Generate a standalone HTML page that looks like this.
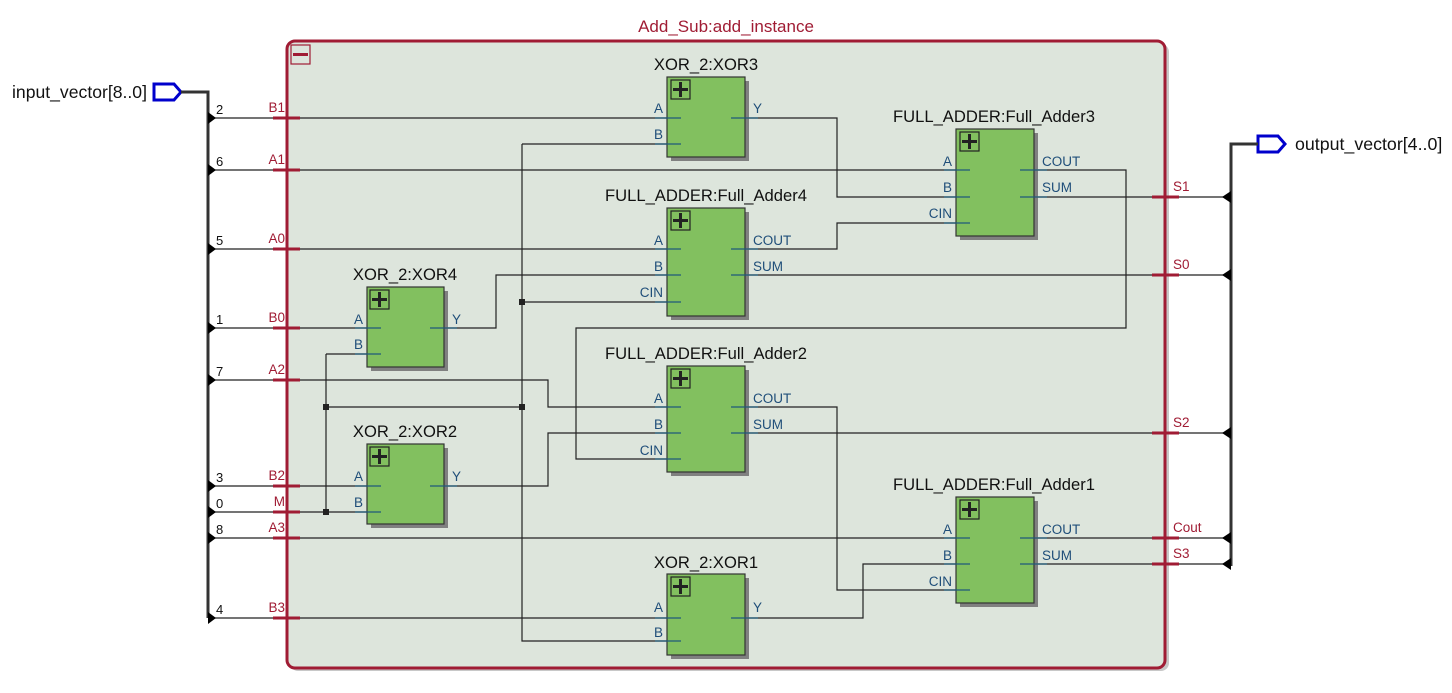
<!DOCTYPE html>
<html><head><meta charset="utf-8"><style>
html,body{margin:0;padding:0;background:#fff;width:1452px;height:693px;overflow:hidden}
svg{display:block}
text{font-family:"Liberation Sans","DejaVu Sans",sans-serif}
.t{font-size:16.6px;fill:#111}
.pl{font-size:13.5px;fill:#1f4e79}
.rl{font-size:13.5px;fill:#a01c34}
.nl{font-size:13px;fill:#111}
.w{stroke:#222;stroke-width:1.2;fill:none}
.st{stroke:#1f5a7a;stroke-width:1.2}
.rp{stroke:#a01c34;stroke-width:3}
</style></head><body>
<svg width="1452" height="693" viewBox="0 0 1452 693" xmlns="http://www.w3.org/2000/svg">
<defs>
<g id="plus"><rect x="0" y="0" width="19" height="19" fill="none" stroke="#222" stroke-width="1.2"/><path d="M9.5 2V17M2 9.5H17" stroke="#222" stroke-width="3"/></g>
</defs>
<rect x="290" y="44" width="879" height="627" rx="8" fill="#c8c8c8"/>
<rect x="287" y="41" width="878" height="627" rx="8" fill="#dde5dc" stroke="#a01c34" stroke-width="3"/>
<text x="726" y="32" text-anchor="middle" style="font-size:17px;fill:#a01c34">Add_Sub:add_instance</text>
<rect x="291" y="45" width="19" height="19" fill="none" stroke="#a01c34" stroke-width="1.2"/>
<path d="M293 54.5H308" stroke="#a01c34" stroke-width="3"/>

<path d="M154 84H174L181 92L174 100H154Z" fill="#fff" stroke="#0000cc" stroke-width="3"/>
<text x="12" y="98" style="font-size:17.6px;fill:#111">input_vector[8..0]</text>
<path d="M181 92H208V618" stroke="#333" stroke-width="3" fill="none"/>

<path d="M1258 136H1278L1285 144L1278 152H1258Z" fill="#fff" stroke="#0000cc" stroke-width="3"/>
<text x="1295" y="150" style="font-size:17.8px;fill:#111">output_vector[4..0]</text>
<path d="M1258 144H1231V566" stroke="#333" stroke-width="3" fill="none"/>

<g class="w">
<path d="M208 118H681"/>
<path d="M208 170H970"/>
<path d="M208 249H681"/>
<path d="M208 328H381"/>
<path d="M208 380H548V407H681"/>
<path d="M208 486H381"/>
<path d="M208 512H381"/>
<path d="M208 538H970"/>
<path d="M208 618H681"/>
<path d="M326 354H381"/>
<path d="M326 354V512"/>
<path d="M326 407H522"/>
<path d="M522 144H681"/>
<path d="M522 144V641H681"/>
<path d="M522 302H681"/>
<path d="M731 118H837V197H970"/>
<path d="M731 249H837V223H970"/>
<path d="M731 275H1231"/>
<path d="M430 328H496V275H681"/>
<path d="M1020 170H1126V328H576V459H681"/>
<path d="M1020 197H1231"/>
<path d="M430 486H548V433H681"/>
<path d="M731 407H837V590H970"/>
<path d="M731 433H1231"/>
<path d="M1020 538H1231"/>
<path d="M1020 564H1231"/>
<path d="M731 618H863V564H970"/>
</g>
<g fill="#222">
<rect x="323" y="404" width="6" height="6"/><rect x="323" y="509" width="6" height="6"/>
<rect x="519" y="404" width="6" height="6"/><rect x="519" y="299" width="6" height="6"/>
</g>
<g fill="#000">
<path d="M208 112L216 118L208 124Z"/><path d="M208 164L216 170L208 176Z"/>
<path d="M208 243L216 249L208 255Z"/><path d="M208 322L216 328L208 334Z"/>
<path d="M208 374L216 380L208 386Z"/><path d="M208 480L216 486L208 492Z"/>
<path d="M208 506L216 512L208 518Z"/><path d="M208 532L216 538L208 544Z"/>
<path d="M208 612L216 618L208 624Z"/>
<path d="M1231 191L1222 197L1231 203Z"/><path d="M1231 269L1222 275L1231 281Z"/>
<path d="M1231 427L1222 433L1231 439Z"/><path d="M1231 532L1222 538L1231 544Z"/>
<path d="M1231 558L1222 564L1231 570Z"/>
</g>
<g class="nl">
<text x="216" y="114">2</text><text x="216" y="166">6</text><text x="216" y="245">5</text>
<text x="216" y="324">1</text><text x="216" y="376">7</text><text x="216" y="482">3</text>
<text x="216" y="508">0</text><text x="216" y="534">8</text><text x="216" y="614">4</text>
</g>
<g class="rp">
<path d="M273 118H300"/><path d="M273 170H300"/><path d="M273 249H300"/><path d="M273 328H300"/>
<path d="M273 380H300"/><path d="M273 486H300"/><path d="M273 512H300"/><path d="M273 538H300"/><path d="M273 618H300"/>
<path d="M1152 197H1179"/><path d="M1152 275H1179"/><path d="M1152 433H1179"/><path d="M1152 538H1179"/><path d="M1152 564H1179"/>
</g>
<g class="rl" text-anchor="end">
<text x="285" y="112">B1</text><text x="285" y="164">A1</text><text x="285" y="243">A0</text>
<text x="285" y="322">B0</text><text x="285" y="374">A2</text><text x="285" y="480">B2</text>
<text x="285" y="506">M</text><text x="285" y="532">A3</text><text x="285" y="612">B3</text>
</g>
<g class="rl">
<text x="1173" y="191">S1</text><text x="1173" y="269">S0</text><text x="1173" y="427">S2</text>
<text x="1173" y="532">Cout</text><text x="1173" y="558">S3</text>
</g>

<g>
<rect x="671" y="81" width="78" height="80" fill="#808080"/>
<rect x="667" y="77" width="78" height="80" fill="#82c05f" stroke="#333" stroke-width="1.2"/>
<use href="#plus" x="671" y="80"/>
<text x="706" y="70" class="t" text-anchor="middle">XOR_2:XOR3</text>
<path d="M655 118H681M655 144H681M731 118H758" class="st"/>
<text x="663" y="113" class="pl" text-anchor="end">A</text><text x="663" y="139" class="pl" text-anchor="end">B</text>
<text x="753" y="113" class="pl">Y</text>
</g>
<g>
<rect x="371" y="291" width="77" height="80" fill="#808080"/>
<rect x="367" y="287" width="77" height="80" fill="#82c05f" stroke="#333" stroke-width="1.2"/>
<use href="#plus" x="370" y="290"/>
<text x="405" y="280" class="t" text-anchor="middle">XOR_2:XOR4</text>
<path d="M355 328H381M355 354H381M430 328H457" class="st"/>
<text x="363" y="324" class="pl" text-anchor="end">A</text><text x="363" y="349" class="pl" text-anchor="end">B</text>
<text x="452" y="324" class="pl">Y</text>
</g>
<g>
<rect x="371" y="448" width="77" height="80" fill="#808080"/>
<rect x="367" y="444" width="77" height="80" fill="#82c05f" stroke="#333" stroke-width="1.2"/>
<use href="#plus" x="370" y="447"/>
<text x="405" y="437" class="t" text-anchor="middle">XOR_2:XOR2</text>
<path d="M355 486H381M355 512H381M430 486H457" class="st"/>
<text x="363" y="481" class="pl" text-anchor="end">A</text><text x="363" y="507" class="pl" text-anchor="end">B</text>
<text x="452" y="481" class="pl">Y</text>
</g>
<g>
<rect x="671" y="578" width="78" height="81" fill="#808080"/>
<rect x="667" y="574" width="78" height="81" fill="#82c05f" stroke="#333" stroke-width="1.2"/>
<use href="#plus" x="671" y="577"/>
<text x="706" y="568" class="t" text-anchor="middle">XOR_2:XOR1</text>
<path d="M655 618H681M655 641H681M731 618H758" class="st"/>
<text x="663" y="612" class="pl" text-anchor="end">A</text><text x="663" y="637" class="pl" text-anchor="end">B</text>
<text x="753" y="612" class="pl">Y</text>
</g>
<g>
<rect x="671" y="212" width="78" height="108" fill="#808080"/>
<rect x="667" y="208" width="78" height="108" fill="#82c05f" stroke="#333" stroke-width="1.2"/>
<use href="#plus" x="671" y="211"/>
<text x="706" y="201" class="t" text-anchor="middle">FULL_ADDER:Full_Adder4</text>
<path d="M655 249H681M655 275H681M655 302H681M731 249H758M731 275H758" class="st"/>
<text x="663" y="245" class="pl" text-anchor="end">A</text><text x="663" y="271" class="pl" text-anchor="end">B</text><text x="663" y="297" class="pl" text-anchor="end">CIN</text>
<text x="753" y="245" class="pl">COUT</text><text x="753" y="271" class="pl">SUM</text>
</g>
<g>
<rect x="671" y="370" width="78" height="106" fill="#808080"/>
<rect x="667" y="366" width="78" height="106" fill="#82c05f" stroke="#333" stroke-width="1.2"/>
<use href="#plus" x="671" y="369"/>
<text x="706" y="359" class="t" text-anchor="middle">FULL_ADDER:Full_Adder2</text>
<path d="M655 407H681M655 433H681M655 459H681M731 407H758M731 433H758" class="st"/>
<text x="663" y="403" class="pl" text-anchor="end">A</text><text x="663" y="429" class="pl" text-anchor="end">B</text><text x="663" y="455" class="pl" text-anchor="end">CIN</text>
<text x="753" y="403" class="pl">COUT</text><text x="753" y="429" class="pl">SUM</text>
</g>
<g>
<rect x="960" y="133" width="78" height="107" fill="#808080"/>
<rect x="956" y="129" width="78" height="107" fill="#82c05f" stroke="#333" stroke-width="1.2"/>
<use href="#plus" x="960" y="132"/>
<text x="994" y="122" class="t" text-anchor="middle">FULL_ADDER:Full_Adder3</text>
<path d="M944 170H970M944 197H970M944 223H970M1020 170H1047M1020 197H1047" class="st"/>
<text x="952" y="166" class="pl" text-anchor="end">A</text><text x="952" y="192" class="pl" text-anchor="end">B</text><text x="952" y="218" class="pl" text-anchor="end">CIN</text>
<text x="1042" y="166" class="pl">COUT</text><text x="1042" y="192" class="pl">SUM</text>
</g>
<g>
<rect x="960" y="501" width="78" height="106" fill="#808080"/>
<rect x="956" y="497" width="78" height="106" fill="#82c05f" stroke="#333" stroke-width="1.2"/>
<use href="#plus" x="960" y="500"/>
<text x="994" y="490" class="t" text-anchor="middle">FULL_ADDER:Full_Adder1</text>
<path d="M944 538H970M944 564H970M944 590H970M1020 538H1047M1020 564H1047" class="st"/>
<text x="952" y="534" class="pl" text-anchor="end">A</text><text x="952" y="560" class="pl" text-anchor="end">B</text><text x="952" y="586" class="pl" text-anchor="end">CIN</text>
<text x="1042" y="534" class="pl">COUT</text><text x="1042" y="560" class="pl">SUM</text>
</g>
</svg>
</body></html>
